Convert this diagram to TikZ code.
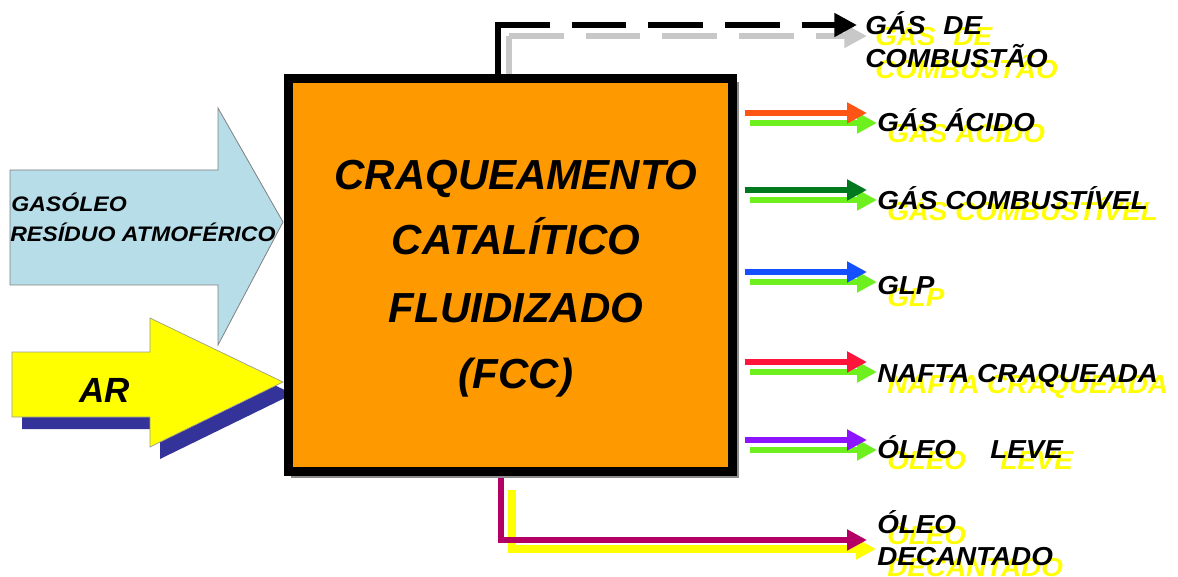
\documentclass[tikz,border=0pt]{standalone}
\usepackage{fontspec}
\setmainfont{Liberation Sans}
\usetikzlibrary{arrows.meta}
\definecolor{boxor}{RGB}{255,153,0}
\definecolor{ltblue}{RGB}{183,221,232}
\definecolor{arrowyel}{RGB}{255,255,0}
\definecolor{shblue}{RGB}{51,51,153}
\definecolor{shyel}{RGB}{255,255,0}
\definecolor{lgreen}{RGB}{110,240,30}
\definecolor{cora}{RGB}{255,85,20}
\definecolor{cdgreen}{RGB}{0,120,30}
\definecolor{cblue}{RGB}{20,80,255}
\definecolor{cred}{RGB}{255,20,60}
\definecolor{cpurple}{RGB}{140,20,255}
\definecolor{cmag}{RGB}{180,0,100}
\definecolor{cgray}{RGB}{200,200,200}
\begin{document}
\begin{tikzpicture}[x=0.75pt,y=-0.75pt,
  lab/.style={anchor=base west, inner sep=0pt, font=\fontsize{19.5}{19.5}\selectfont\bfseries\itshape, xscale=1.07},
  labsh/.style={lab, text=shyel},
  inlab/.style={anchor=base west, inner sep=0pt, font=\fontsize{15.75}{15.75}\selectfont\bfseries\itshape, xscale=1.1},
  outarr/.style={line width=4.5pt, -{Triangle[length=15pt,width=15pt]}},
  fluearr/.style={line width=4.5pt, -{Triangle[length=17pt,width=17pt]}},
  boxtxt/.style={anchor=base, inner sep=0pt, font=\fontsize{31.5}{31.5}\selectfont\bfseries\itshape}]
\useasboundingbox (0,0) rectangle (1178,577);

% ---- input arrows ----
\draw[fill=ltblue, draw=black!50, line width=0.6pt]
  (10,170) -- (218,170) -- (218,108) -- (283,222) -- (218,345) -- (218,285) -- (10,285) -- cycle;
\fill[shblue]
  (22,364) -- (160,364) -- (160,330) -- (293,394) -- (160,459) -- (160,429) -- (22,429) -- cycle;
\draw[fill=arrowyel, draw=black!40, line width=0.5pt]
  (12,352) -- (150,352) -- (150,318) -- (283,382) -- (150,447) -- (150,417) -- (12,417) -- cycle;
\node[inlab] (in1) at (11,212) {GASÓLEO};
\node[inlab] (in2) at (10,242) {RESÍDUO ATMOFÉRICO};
\node[anchor=base, inner sep=0pt, font=\fontsize{26.25}{26.25}\selectfont\bfseries\itshape] (ar) at (105,402) {AR};

% ---- flue gas (behind box) ----
\coordinate (fgA) at (498,75);
\coordinate (fgB) at (498,25);
\coordinate (gfA) at (509,75);
\coordinate (gfB) at (509,36);
\node[labsh] (gd2) at (875,46) {GÁS\hspace{12.5pt}DE};
\node[labsh] (gc2) at (875,79) {COMBUSTÃO};
\node[lab] (gd) at (865,35) {GÁS\hspace{12.5pt}DE};
\node[lab] (gc) at (865,68) {COMBUSTÃO};
\draw[cgray, line width=4.5pt] (gfA) -- (gfB);
\draw[cgray, fluearr, dash pattern=on 41pt off 16.5pt] (gfB) -- ([xshift=-6pt]gd2.west |- gfB);
\draw[black, line width=4.5pt] (fgA) -- ([yshift=-2pt]fgB);
\draw[black, fluearr, dash pattern=on 41pt off 16.5pt] ([xshift=-2.25pt]fgB) -- ([xshift=-6pt]gd.west |- fgB);

% ---- main box ----
\fill[black!45] (291,82) rectangle (739,478);
\node[draw=black, fill=boxor, line width=6.75pt, minimum width=333pt, minimum height=294pt, inner sep=0pt] (fcc) at (510,275) {};
\node[boxtxt] (t1) at (516,190) {CRAQUEAMENTO};
\node[boxtxt] (t2) at (516,255) {CATALÍTICO};
\node[boxtxt] (t3) at (516,322) {FLUIDIZADO};
\node[boxtxt] (t4) at (516,388) {(FCC)};

% ---- product labels (yellow shadows first) ----
\node[labsh] (la2) at (887,143) {GÁS ÁCIDO};
\node[labsh] (lb2) at (887,221) {GÁS COMBUSTÍVEL};
\node[labsh] (lc2) at (887,306) {GLP};
\node[labsh] (ld2) at (887,393) {NAFTA CRAQUEADA};
\node[labsh] (le2) at (887,469) {ÓLEO\hspace{24pt}LEVE};
\node[labsh] (lf2) at (887,544) {ÓLEO};
\node[labsh] (lg2) at (887,576) {DECANTADO};
\node[lab] (la) at (877,132) {GÁS ÁCIDO};
\node[lab] (lb) at (877,210) {GÁS COMBUSTÍVEL};
\node[lab] (lc) at (877,295) {GLP};
\node[lab] (ld) at (877,382) {NAFTA CRAQUEADA};
\node[lab] (le) at (877,458) {ÓLEO\hspace{24pt}LEVE};
\node[lab] (lf) at (877,533) {ÓLEO};
\node[lab] (lg) at (877,565) {DECANTADO};

% ---- product arrows ----
\draw[outarr, lgreen] ([xshift=9.75pt]fcc.east |- 0,123) -- (la.west |- 0,123);
\draw[outarr, cora]   ([xshift=6pt]fcc.east |- 0,113) -- ([xshift=-7.5pt]la.west |- 0,113);
\draw[outarr, lgreen] ([xshift=9.75pt]fcc.east |- 0,200) -- (lb.west |- 0,200);
\draw[outarr, cdgreen]([xshift=6pt]fcc.east |- 0,190) -- ([xshift=-7.5pt]lb.west |- 0,190);
\draw[outarr, lgreen] ([xshift=9.75pt]fcc.east |- 0,282) -- (lc.west |- 0,282);
\draw[outarr, cblue]  ([xshift=6pt]fcc.east |- 0,272) -- ([xshift=-7.5pt]lc.west |- 0,272);
\draw[outarr, lgreen] ([xshift=9.75pt]fcc.east |- 0,372) -- (ld.west |- 0,372);
\draw[outarr, cred]   ([xshift=6pt]fcc.east |- 0,362) -- ([xshift=-7.5pt]ld.west |- 0,362);
\draw[outarr, lgreen] ([xshift=9.75pt]fcc.east |- 0,450) -- (le.west |- 0,450);
\draw[outarr, cpurple]([xshift=6pt]fcc.east |- 0,440) -- ([xshift=-7.5pt]le.west |- 0,440);

% ---- decanted oil ----
\coordinate (dy) at (512,490);
\coordinate (dm) at (501,478);
\draw[outarr, arrowyel, line width=6pt] (dy) -- (512,549) -- ([xshift=-0.75pt]lf.west |- 0,549);
\draw[outarr, cmag, line width=5pt] (dm) -- (501,540) -- ([xshift=-7.5pt]lf.west |- 0,540);
\end{tikzpicture}
\end{document}
